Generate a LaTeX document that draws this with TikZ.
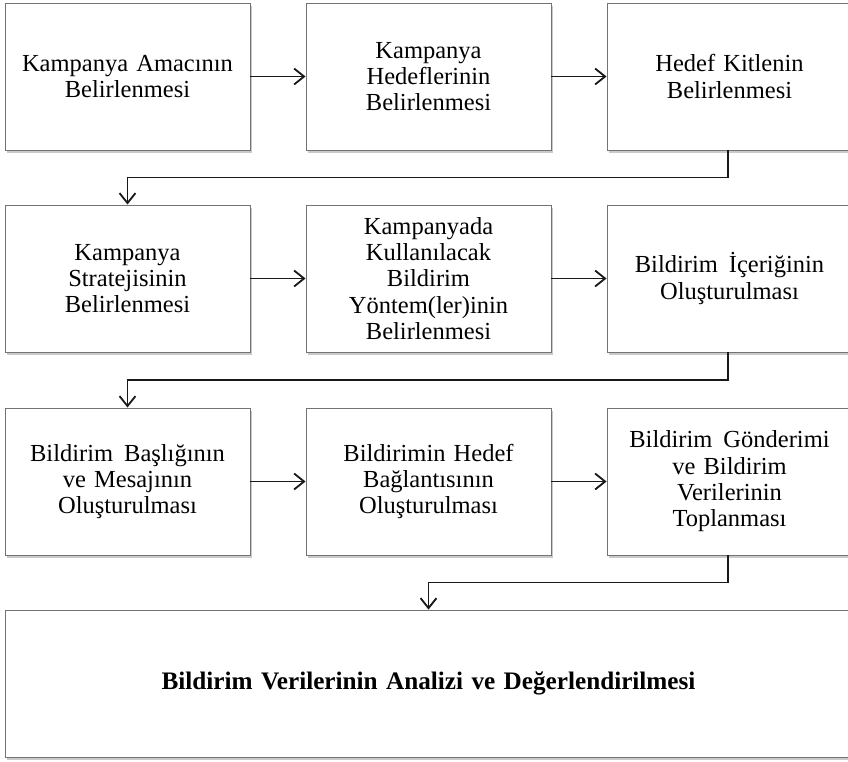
\documentclass[tikz,border=0pt]{standalone}
\usepackage{fontspec}
\setmainfont{Liberation Serif}
\usetikzlibrary{arrows.meta,shadows}

% tight word spacing inside the boxes
\newcommand{\tightwords}{\spaceskip=0.16em plus 0.05em minus 0.02em\relax}
\newcommand{\widegap}{\hspace{0.45em}}

\tikzset{
  stepbox/.style={
    draw=black!55, line width=0.9pt, fill=white,
    minimum width=245pt, minimum height=147pt,
    text width=236pt, align=center, inner sep=0pt,
    font=\fontsize{24.5}{26.3}\selectfont\tightwords,
    drop shadow={shadow xshift=2.2pt, shadow yshift=-2.6pt, opacity=0.35, fill=black!60}
  },
  finalbox/.style={stepbox, minimum width=847pt, text width=820pt,
    font=\fontsize{25.2}{27}\selectfont\bfseries\tightwords},
  conn/.style={line width=1.8pt, draw=black!90,
    -{Straight Barb[length=10pt,width=16pt,line width=1.8pt]}}
}

\begin{document}
\begin{tikzpicture}[x=1pt, y=-1pt]
  \useasboundingbox (0,0) rectangle (848,762);
  \fill[white] (0,0) rectangle (848,762);

  % row 1
  \node[stepbox] (b1) at (127.5,76.5) {Kampanya Amacının\\Belirlenmesi};
  \node[stepbox] (b2) at (428.5,76.5) {Kampanya\\Hedeflerinin\\Belirlenmesi};
  \node[stepbox] (b3) at (729.5,76.5) {Hedef Kitlenin\\Belirlenmesi};

  % row 2
  \node[stepbox] (b4) at (127.5,278.5) {Kampanya\\Stratejisinin\\Belirlenmesi};
  \node[stepbox] (b5) at (428.5,278.5) {Kampanyada\\Kullanılacak\\Bildirim\\Yöntem(ler)inin\\Belirlenmesi};
  \node[stepbox] (b6) at (729.5,278.5) {Bildirim\widegap İçeriğinin\\Oluşturulması};

  % row 3
  \node[stepbox] (b7) at (127.5,481.5) {Bildirim\widegap Başlığının\\ve Mesajının\\Oluşturulması};
  \node[stepbox] (b8) at (428.5,481.5) {Bildirimin Hedef\\Bağlantısının\\Oluşturulması};
  \node[stepbox] (b9) at (729.5,481.5) {Bildirim\widegap Gönderimi\\ve Bildirim\\Verilerinin\\Toplanması};

  % final step
  \node[finalbox] (b10) at (428.5,683.5) {Bildirim Verilerinin Analizi ve Değerlendirilmesi};

  % connectors within rows
  \draw[conn] (b1.east) -- (b2.west);
  \draw[conn] (b2.east) -- (b3.west);
  \draw[conn] (b4.east) -- (b5.west);
  \draw[conn] (b5.east) -- (b6.west);
  \draw[conn] (b7.east) -- (b8.west);
  \draw[conn] (b8.east) -- (b9.west);

  % connectors between rows
  \coordinate (t1) at (728,177.5);
  \coordinate (t2) at (728,380);
  \coordinate (t3) at (728,582.5);
  \draw[conn] (b3.south -| t1) -- (t1) -| (b4.north);
  \draw[conn] (b6.south -| t2) -- (t2) -| (b7.north);
  \draw[conn] (b9.south -| t3) -- (t3) -| (b10.north);
\end{tikzpicture}
\end{document}
